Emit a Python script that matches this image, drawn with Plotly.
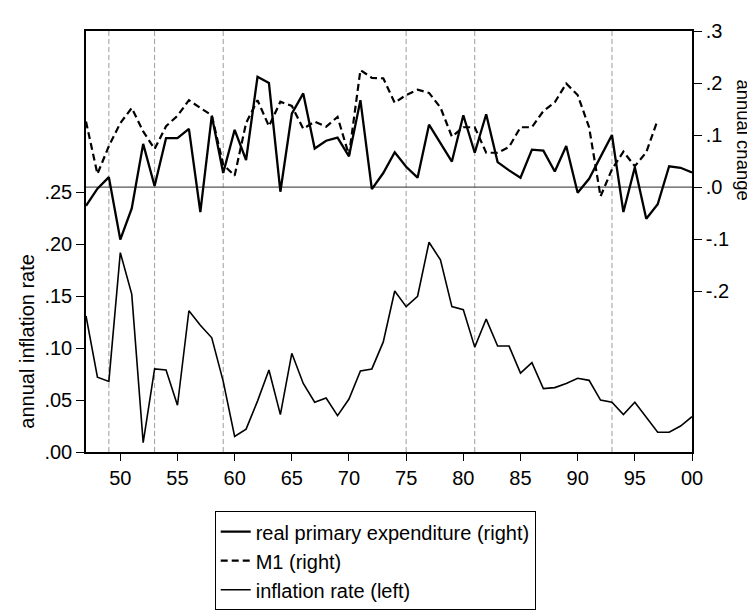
import plotly.graph_objects as go

years = list(range(1947, 2001))

inflation = [0.131, 0.072, 0.068, 0.192, 0.152, 0.009, 0.080, 0.079, 0.045, 0.136,
             0.122, 0.110, 0.068, 0.015, 0.022, 0.049, 0.079, 0.036, 0.095, 0.066,
             0.048, 0.052, 0.035, 0.051, 0.078, 0.080, 0.106, 0.155, 0.140, 0.150,
             0.202, 0.185, 0.140, 0.137, 0.101, 0.128, 0.102, 0.102, 0.076, 0.086,
             0.061, 0.062, 0.066, 0.071, 0.069, 0.050, 0.048, 0.036, 0.048, 0.034,
             0.019, 0.019, 0.025, 0.034]

real_exp = [-0.036, -0.003, 0.019, -0.101, -0.041, 0.083, 0.002, 0.094, 0.094, 0.112,
            -0.048, 0.137, 0.027, 0.110, 0.052, 0.212, 0.200, -0.009, 0.141, 0.180,
            0.074, 0.089, 0.095, 0.059, 0.167, -0.004, 0.027, 0.067, 0.039, 0.018,
            0.120, 0.085, 0.049, 0.138, 0.066, 0.140, 0.048, 0.032, 0.018, 0.072,
            0.070, 0.030, 0.079, -0.011, 0.016, 0.058, 0.100, -0.048, 0.038, -0.061,
            -0.033, 0.040, 0.037, 0.028]

m1_years = list(range(1947, 1998))
m1 = [0.126, 0.025, 0.079, 0.123, 0.152, 0.107, 0.073, 0.117, 0.137, 0.167,
      0.152, 0.138, 0.043, 0.022, 0.123, 0.167, 0.117, 0.164, 0.156, 0.112,
      0.126, 0.116, 0.135, 0.061, 0.225, 0.210, 0.209, 0.162, 0.177, 0.187,
      0.181, 0.153, 0.097, 0.115, 0.115, 0.066, 0.066, 0.077, 0.115, 0.115,
      0.146, 0.163, 0.199, 0.177, 0.115, -0.018, 0.034, 0.068, 0.040, 0.067,
      0.129]

marker_years = [1949, 1953, 1959, 1975, 1981, 1993]

x_tickvals = [1950, 1955, 1960, 1965, 1970, 1975, 1980, 1985, 1990, 1995, 2000]
x_ticktext = ["50", "55", "60", "65", "70", "75", "80", "85", "90", "95", "00"]
left_tickvals = [0.0, 0.05, 0.10, 0.15, 0.20, 0.25]
left_ticktext = [".00", ".05", ".10", ".15", ".20", ".25"]
right_tickvals = [-0.2, -0.1, 0.0, 0.1, 0.2, 0.3]
right_ticktext = ["-.2", "-.1", ".0", ".1", ".2", ".3"]

FONT = "Liberation Sans, Arial, sans-serif"

fig = go.Figure()
fig.add_trace(go.Scatter(x=years, y=real_exp, mode="lines", name="real primary expenditure (right)",
                         line=dict(color="black", width=2.3), yaxis="y2"))
fig.add_trace(go.Scatter(x=m1_years, y=m1, mode="lines", name="M1 (right)",
                         line=dict(color="black", width=2.2, dash="7px,4px"), yaxis="y2"))
fig.add_trace(go.Scatter(x=years, y=inflation, mode="lines", name="inflation rate (left)",
                         line=dict(color="black", width=1.6), yaxis="y"))

shapes = []
for yr in marker_years:
    shapes.append(dict(type="line", xref="x", yref="paper", x0=yr, x1=yr, y0=0, y1=1,
                       line=dict(color="#9a9a9a", width=1, dash="5px,3px"), layer="below"))
shapes.append(dict(type="line", xref="paper", yref="y2", x0=0, x1=1, y0=0, y1=0,
                   line=dict(color="#555555", width=1.2), layer="below"))

fig.update_layout(
    width=755, height=614,
    margin=dict(l=78, r=71, t=13, b=148),
    paper_bgcolor="white", plot_bgcolor="white",
    font=dict(family=FONT, size=20, color="black"),
    showlegend=True,
    legend=dict(x=0.2124, y=-0.1406, xanchor="left", yanchor="top",
                bordercolor="black", borderwidth=1, bgcolor="white",
                font=dict(size=20), tracegroupgap=0, itemwidth=30),
    xaxis=dict(range=[1947, 2000], tickvals=x_tickvals, ticktext=x_ticktext,
               ticks="outside", ticklen=7, tickcolor="black", tickwidth=1,
               showline=True, linecolor="black", linewidth=1.5, mirror=True,
               showgrid=False, zeroline=False, tickfont=dict(size=20)),
    yaxis=dict(range=[0, 0.4054], tickvals=left_tickvals, ticktext=left_ticktext,
               ticks="outside", ticklen=8, tickcolor="black", tickwidth=1,
               showline=True, linecolor="black", linewidth=1.5,
               showgrid=False, zeroline=False, tickfont=dict(size=20)),
    yaxis2=dict(range=[-0.5093, 0.3], tickvals=right_tickvals, ticktext=right_ticktext,
                overlaying="y", side="right",
                ticks="outside", ticklen=8, tickcolor="black", tickwidth=1,
                showline=True, linecolor="black", linewidth=1.5,
                showgrid=False, zeroline=False, tickfont=dict(size=20)),
    shapes=shapes,
    annotations=[
        dict(text="annual inflation rate", xref="paper", yref="paper", x=-0.098, y=0.2635,
             xanchor="center", yanchor="middle", textangle=-90, showarrow=False,
             font=dict(size=20)),
        dict(text="annual change", xref="paper", yref="paper", x=1.0845, y=0.742,
             xanchor="center", yanchor="middle", textangle=90, showarrow=False,
             font=dict(size=18.5)),
    ],
)

fig.write_html("out.html")
